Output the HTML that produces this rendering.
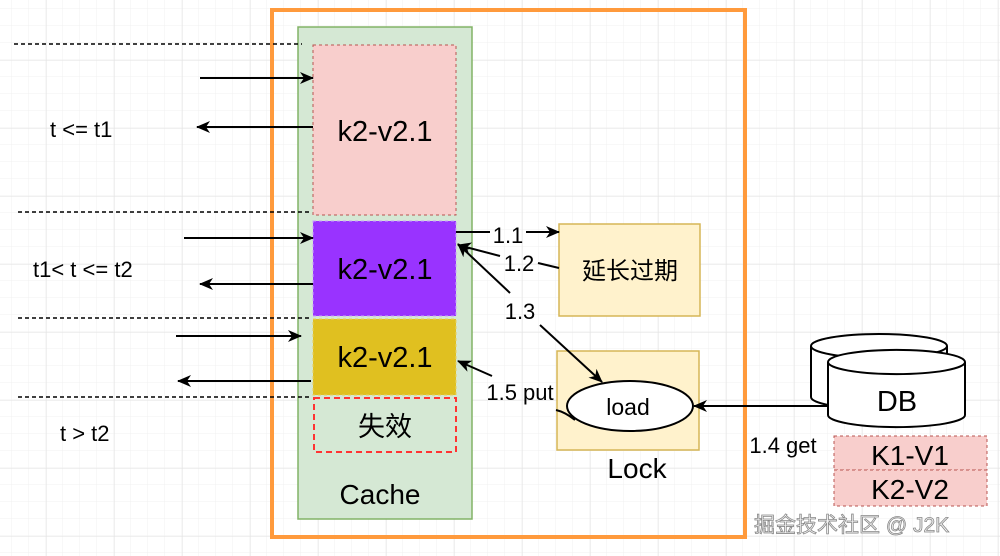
<!DOCTYPE html>
<html><head><meta charset="utf-8"><style>
html,body{margin:0;padding:0;background:#fff}
svg{display:block}
text{font-family:"Liberation Sans","Noto Sans CJK SC",sans-serif;fill:#000}
</style></head><body>
<svg width="1000" height="556" viewBox="0 0 1000 556" xmlns="http://www.w3.org/2000/svg">
<defs>
<pattern id="gmin" width="17" height="17" patternUnits="userSpaceOnUse" x="12" y="9">
<path d="M17 0V17M0 17H17" fill="none" stroke="#f1f1f1" stroke-width="1"/>
</pattern>
<pattern id="gmaj" width="68" height="68" patternUnits="userSpaceOnUse" x="46" y="60">
<path d="M0 0V68M0 0H68" fill="none" stroke="#e2e2e2" stroke-width="1"/>
</pattern>
<marker id="ar" markerWidth="14" markerHeight="12" refX="13" refY="6" orient="auto" markerUnits="userSpaceOnUse">
<path d="M0 0L14 6L0 12L4 6Z" fill="#000"/>
</marker>
</defs>
<rect width="1000" height="556" fill="url(#gmin)"/>
<rect width="1000" height="556" fill="url(#gmaj)"/>

<rect x="272" y="10" width="473" height="527" fill="none" stroke="#ff9a3c" stroke-width="4"/>
<rect x="298" y="27" width="174" height="492" fill="#d5e8d4" stroke="#82b366" stroke-width="1.5"/>
<rect x="313" y="45" width="143" height="170" fill="#f8cecc" stroke="#b85450" stroke-dasharray="3 3"/>
<rect x="313" y="221" width="143" height="95" fill="#9933ff" stroke="#c9a0ff" stroke-dasharray="3 3"/>
<rect x="313" y="319" width="143" height="76" fill="#e0c020" stroke="#e8d060" stroke-dasharray="3 3"/>
<rect x="314" y="398" width="142" height="54" fill="none" stroke="#ff3333" stroke-width="2" stroke-dasharray="6 4"/>
<text x="385" y="141" font-size="29" text-anchor="middle">k2-v2.1</text>
<text x="385" y="279" font-size="29" text-anchor="middle">k2-v2.1</text>
<text x="385" y="367" font-size="29" text-anchor="middle">k2-v2.1</text>
<text x="385" y="436" font-size="27" text-anchor="middle">失效</text>
<text x="380" y="504" font-size="28" text-anchor="middle">Cache</text>

<g stroke="#000" stroke-width="1.5" stroke-dasharray="4 3">
<line x1="14" y1="44" x2="302" y2="44"/>
<line x1="18" y1="212" x2="312" y2="212"/>
<line x1="18" y1="318" x2="312" y2="318"/>
<line x1="18" y1="397" x2="312" y2="397"/>
</g>
<g stroke="#000" stroke-width="2" marker-end="url(#ar)">
<line x1="200" y1="78" x2="313" y2="78"/>
<line x1="313" y1="127" x2="197" y2="127"/>
<line x1="184" y1="238" x2="313" y2="238"/>
<line x1="313" y1="284" x2="200" y2="284"/>
<line x1="176" y1="336" x2="301" y2="336"/>
<line x1="311" y1="381" x2="178" y2="381"/>
</g>
<text x="50" y="137" font-size="22">t &lt;= t1</text>
<text x="33" y="277" font-size="22">t1&lt; t &lt;= t2</text>
<text x="60" y="441" font-size="22">t &gt; t2</text>

<rect x="559" y="224" width="141" height="92" fill="#fff2cc" stroke="#d6b656" stroke-width="1.5"/>
<text x="630" y="279" font-size="24" text-anchor="middle">延长过期</text>
<rect x="557" y="351" width="142" height="99" fill="#fff2cc" stroke="#d6b656" stroke-width="1.5"/>
<text x="637" y="478" font-size="28" text-anchor="middle">Lock</text>
<ellipse cx="630" cy="406" rx="63" ry="25" fill="#fff" stroke="#000" stroke-width="2"/>
<text x="628" y="415" font-size="23" text-anchor="middle">load</text>

<g stroke="#000" stroke-width="2" fill="none">
<line x1="456" y1="232" x2="490" y2="232"/>
<line x1="526" y1="232" x2="559" y2="232" marker-end="url(#ar)"/>
<line x1="559" y1="268" x2="538" y2="263"/>
<line x1="500" y1="256" x2="458" y2="245" marker-end="url(#ar)"/>
<line x1="510" y1="293" x2="458" y2="244" marker-end="url(#ar)"/>
<line x1="540" y1="325" x2="602" y2="382" marker-end="url(#ar)"/>
<line x1="492" y1="376" x2="458" y2="361" marker-end="url(#ar)"/>
<path d="M556 410 Q565 412 575 420"/>
<line x1="830" y1="406" x2="694" y2="406" marker-end="url(#ar)"/>
</g>
<text x="508" y="243" font-size="22" text-anchor="middle">1.1</text>
<text x="519" y="271" font-size="22" text-anchor="middle">1.2</text>
<text x="520" y="319" font-size="22" text-anchor="middle">1.3</text>
<text x="520" y="400" font-size="22" text-anchor="middle">1.5 put</text>
<text x="783" y="453" font-size="22" text-anchor="middle">1.4 get</text>

<g stroke="#000" stroke-width="2" fill="#fff">
<path d="M811 346 A68 12 0 0 1 947 346 V397 A68 12 0 0 1 811 397 Z"/>
<path d="M811 346 A68 12 0 0 0 947 346"/>
<path d="M828 362 A68 12 0 0 1 965 362 V415 A68 12 0 0 1 828 415 Z"/>
<path d="M828 362 A68 12 0 0 0 965 362"/>
</g>
<text x="897" y="411" font-size="29" text-anchor="middle">DB</text>
<rect x="834" y="436" width="153" height="34" fill="#f8cecc" stroke="#b85450" stroke-dasharray="3 3"/>
<rect x="834" y="470" width="153" height="36" fill="#f8cecc" stroke="#b85450" stroke-dasharray="3 3"/>
<text x="910" y="465" font-size="28" text-anchor="middle">K1-V1</text>
<text x="910" y="499" font-size="28" text-anchor="middle">K2-V2</text>
<text x="754" y="532" font-size="21" stroke="#888" stroke-width="0.8" style="fill:#f4f4f4">掘金技术社区 @ J2K</text>
</svg>
</body></html>
